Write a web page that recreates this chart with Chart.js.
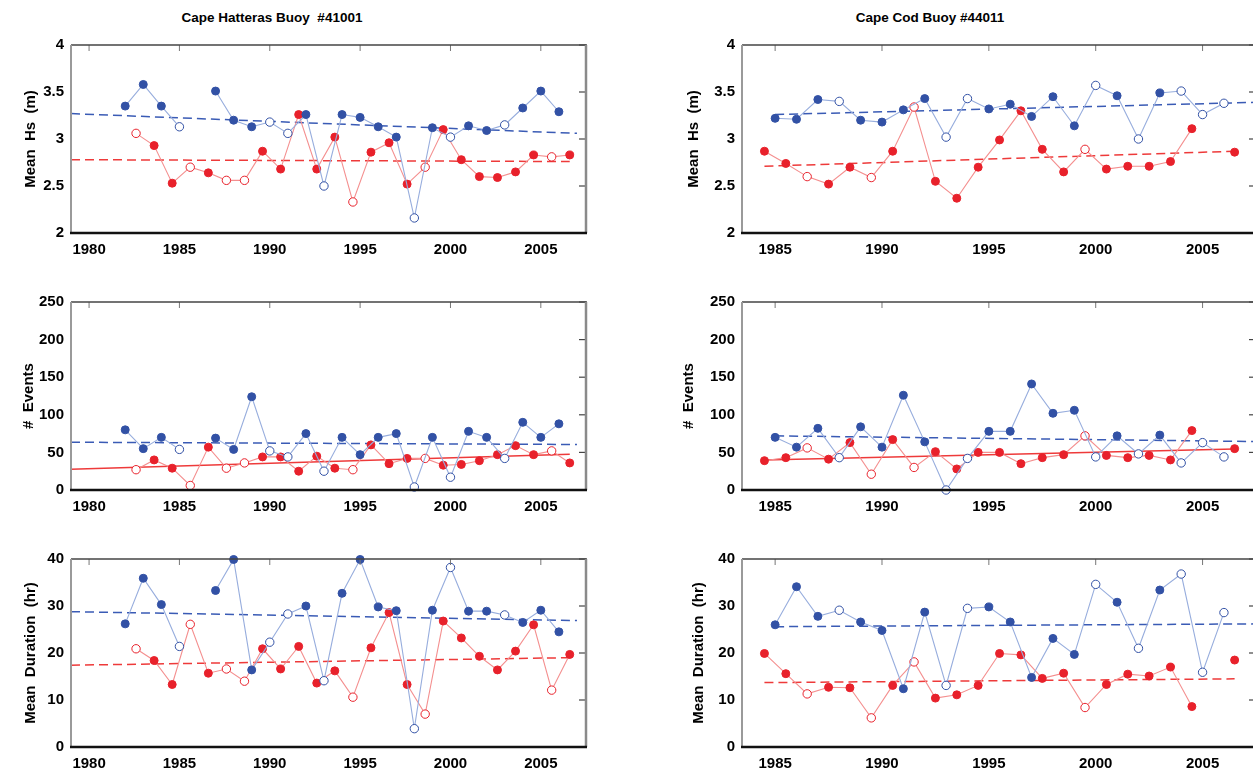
<!DOCTYPE html>
<html>
<head>
<meta charset="utf-8">
<script src="https://cdn.jsdelivr.net/npm/chart.js@4.4.1/dist/chart.umd.min.js"></script>
<style>
  html, body { margin: 0; padding: 0; background: #fff; overflow: hidden; width: 1253px; height: 770px; }
  canvas { position: absolute; }
  .title { position: absolute; top: 10px; transform: translateX(-50%); white-space: pre;
           font: bold 13.5px 'Liberation Sans', Arial, sans-serif; color: #000; }
</style>
</head>
<body>
<div class="title" style="left:272px">Cape Hatteras Buoy  #41001</div>
<div class="title" style="left:930px">Cape Cod Buoy #44011</div>

<canvas id="hatHs" width="600" height="228" style="left:0;top:29px"></canvas>
<canvas id="codHs" width="600" height="228" style="left:670px;top:29px"></canvas>
<canvas id="hatEv" width="600" height="228" style="left:0;top:286px"></canvas>
<canvas id="codEv" width="600" height="228" style="left:670px;top:286px"></canvas>
<canvas id="hatDur" width="600" height="228" style="left:0;top:543px"></canvas>
<canvas id="codDur" width="600" height="228" style="left:670px;top:543px"></canvas>

<script>
// ---- x positions (years) ----
const hatterasBlueYears = [1982, 1983, 1984, 1985, 1986, 1987, 1988, 1989, 1990, 1991, 1992, 1993, 1994,
  1995, 1996, 1997, 1998, 1999, 2000, 2001, 2002, 2003, 2004, 2005, 2006];
const hatterasRedYears = [1982.6, 1983.6, 1984.6, 1985.6, 1986.6, 1987.6, 1988.6, 1989.6, 1990.6, 1991.6,
  1992.6, 1993.6, 1994.6, 1995.6, 1996.6, 1997.6, 1998.6, 1999.6, 2000.6, 2001.6, 2002.6, 2003.6, 2004.6,
  2005.6, 2006.6];
const capeCodBlueYears = [1985, 1986, 1987, 1988, 1989, 1990, 1991, 1992, 1993, 1994, 1995, 1996, 1997,
  1998, 1999, 2000, 2001, 2002, 2003, 2004, 2005, 2006];
const capeCodRedYears = [1984.5, 1985.5, 1986.5, 1987.5, 1988.5, 1989.5, 1990.5, 1991.5, 1992.5, 1993.5,
  1994.5, 1995.5, 1996.5, 1997.5, 1998.5, 1999.5, 2000.5, 2001.5, 2002.5, 2003.5, 2004.5, 2005.5, 2006.5];

// 1 = open (hollow) marker
const hatterasBlueHollow = [0,0,0,1,0,0,0,0,1,1,0,1,0,0,0,0,1,0,1,0,0,1,0,0,0];
const hatterasRedHollow  = [1,0,0,1,0,1,1,0,0,0,0,0,1,0,0,0,1,0,0,0,0,0,0,1,0];
const capeCodBlueHollow  = [0,0,0,1,0,0,0,0,1,1,0,0,0,0,0,1,0,1,0,1,1,1];
const capeCodRedHollow   = [0,0,1,0,0,1,0,1,0,0,0,0,0,0,0,1,0,0,0,0,0,0,0];

// ---- Mean Hs (m) ----
const hatterasHsBlue = [3.35, 3.58, 3.35, 3.13, null, 3.51, 3.20, 3.13, 3.18, 3.06, 3.26, 2.50, 3.26,
  3.23, 3.13, 3.02, 2.16, 3.12, 3.02, 3.14, 3.09, 3.15, 3.33, 3.51, 3.29];
const hatterasHsRed = [3.06, 2.93, 2.53, 2.70, 2.64, 2.56, 2.56, 2.87, 2.68, 3.26, 2.68, 3.02, 2.33,
  2.86, 2.96, 2.52, 2.70, 3.10, 2.78, 2.60, 2.59, 2.65, 2.83, 2.81, 2.83];
const capeCodHsBlue = [3.22, 3.21, 3.42, 3.40, 3.20, 3.18, 3.31, 3.43, 3.02, 3.43, 3.32, 3.37, 3.24,
  3.45, 3.14, 3.57, 3.46, 3.00, 3.49, 3.51, 3.26, 3.38];
const capeCodHsRed = [2.87, 2.74, 2.60, 2.52, 2.70, 2.59, 2.87, 3.34, 2.55, 2.37, 2.70, 2.99, 3.30,
  2.89, 2.65, 2.89, 2.68, 2.71, 2.71, 2.76, 3.11, null, 2.86];

// ---- # Events ----
const hatterasEvBlue = [80, 55, 70, 54, null, 69, 54, 124, 52, 44, 75, 25, 70, 47, 70, 75, 4, 70, 17,
  78, 70, 42, 90, 70, 88];
const hatterasEvRed = [27, 40, 29, 6, 57, 29, 36, 44, 44, 25, 45, 29, 27, 60, 35, 42, 42, 33, 34, 39,
  47, 59, 47, 52, 36];
const capeCodEvBlue = [70, 57, 82, 43, 84, 57, 126, 64, 0, 42, 78, 78, 141, 102, 106, 44, 72, 48, 73,
  36, 63, 44];
const capeCodEvRed = [39, 43, 56, 41, 63, 21, 67, 30, 51, 28, 50, 50, 35, 43, 47, 72, 46, 43, 46, 40,
  79, null, 55];

// ---- Mean Duration (hr) ----
const hatterasDurBlue = [26.2, 35.9, 30.3, 21.4, null, 33.3, 39.9, 16.4, 22.3, 28.3, 30.0, 14.1, 32.7,
  39.9, 29.8, 29.0, 3.9, 29.1, 38.2, 28.9, 28.9, 28.1, 26.5, 29.1, 24.5];
const hatterasDurRed = [20.9, 18.4, 13.3, 26.1, 15.7, 16.6, 14.0, 20.9, 16.6, 21.4, 13.6, 16.2, 10.6,
  21.1, 28.6, 13.3, 7.0, 26.8, 23.2, 19.3, 16.4, 20.4, 26.0, 12.1, 19.7];
const capeCodDurBlue = [26.0, 34.1, 27.8, 29.1, 26.6, 24.8, 12.4, 28.7, 13.1, 29.5, 29.8, 26.6, 14.8,
  23.1, 19.7, 34.6, 30.8, 21.0, 33.4, 36.8, 15.9, 28.6];
const capeCodDurRed = [19.9, 15.6, 11.3, 12.7, 12.6, 6.2, 13.1, 18.1, 10.4, 11.1, 13.1, 19.9, 19.6,
  14.6, 15.7, 8.4, 13.3, 15.5, 15.1, 17.0, 8.6, null, 18.5];

// ---- trend lines (end points) ----
const hatterasBlueTrendX = [1979, 2007];
const hatterasRedTrendX = [1979, 2006.6];
const capeCodBlueTrendX = [1985, 2007.5];
const capeCodRedTrendX = [1984.5, 2006.5];
const hatterasHsTrendBlue = [3.27, 3.06];
const hatterasHsTrendRed = [2.78, 2.76];
const capeCodHsTrendBlue = [3.26, 3.39];
const capeCodHsTrendRed = [2.71, 2.87];
const hatterasEvTrendBlue = [63.5, 60.5];
const hatterasEvTrendRed = [27.5, 47.5];
const capeCodEvTrendBlue = [72, 64.4];
const capeCodEvTrendRed = [40, 54.5];
const hatterasDurTrendBlue = [28.8, 26.9];
const hatterasDurTrendRed = [17.4, 19.0];
const capeCodDurTrendBlue = [25.6, 26.2];
const capeCodDurTrendRed = [13.7, 14.5];

// ---- tick labels ----
const hatterasXTicks = [1980, 1985, 1990, 1995, 2000, 2005];
const capeCodXTicks = [1985, 1990, 1995, 2000, 2005];
const hsTicks = [2, 2.5, 3, 3.5, 4];
const evTicks = [0, 50, 100, 150, 200, 250];
const durTicks = [0, 10, 20, 30, 40];

const BLUE = '#3251a5', BLUE_LINE = '#97addd', BLUE_TREND = '#3a5bb5';
const RED = '#e8212b', RED_LINE = '#f48f8f', RED_TREND = '#ee3a3a';
const FONT = "'Liberation Sans', Arial, sans-serif";

const toPoints = (xs, ys) => xs.map((x, i) => ({ x: x, y: ys[i] }));

function series(xs, ys, hollow, fill, line) {
  return {
    data: toPoints(xs, ys),
    showLine: true,
    spanGaps: false,
    borderColor: line,
    borderWidth: 1.1,
    pointRadius: hollow.map(h => h ? 4.2 : 4),
    pointBackgroundColor: hollow.map(h => h ? '#fff' : fill),
    pointBorderColor: fill,
    pointBorderWidth: 1,
    clip: false,
    order: 1
  };
}

function trend(xs, ys, color, dashed) {
  return {
    data: toPoints(xs, ys),
    showLine: true,
    borderColor: color,
    borderWidth: 1.5,
    borderDash: dashed ? [9, 5] : [],
    pointRadius: 0,
    order: 3
  };
}

// box, inward ticks on top/right, axis lines
const frame = {
  id: 'frame',
  afterDatasetsDraw(chart) {
    const { ctx, chartArea: a, scales: { x, y } } = chart;
    const seg = (x1, y1, x2, y2, col, w) => {
      ctx.strokeStyle = col; ctx.lineWidth = w;
      ctx.beginPath(); ctx.moveTo(x1, y1); ctx.lineTo(x2, y2); ctx.stroke();
    };
    ctx.save();
    x.ticks.forEach(t => {
      const px = x.getPixelForValue(t.value);
      seg(px, a.top, px, a.top + 6, '#777', 1);
    });
    y.ticks.forEach(t => {
      const py = y.getPixelForValue(t.value);
      seg(a.right - 7, py, a.right, py, '#444', 1.2);
    });
    seg(a.left, a.top, a.right + 1, a.top, '#444', 1.5);
    seg(a.right, a.top, a.right, a.bottom, '#8a8a8a', 2.5);
    seg(a.left, a.top, a.left, a.bottom, '#9a9a9a', 2);
    seg(a.left - 1, a.bottom, a.right + 1, a.bottom, '#111', 2.5);
    ctx.restore();
  }
};

function panel(id, cfg) {
  const tickFont = { family: FONT, size: 15, weight: 'bold' };
  new Chart(document.getElementById(id), {
    type: 'scatter',
    data: {
      datasets: [
        series(cfg.blueX, cfg.blue, cfg.blueHollow, BLUE, BLUE_LINE),
        series(cfg.redX, cfg.red, cfg.redHollow, RED, RED_LINE),
        trend(cfg.blueTrendX, cfg.blueTrend, BLUE_TREND, true),
        trend(cfg.redTrendX, cfg.redTrend, RED_TREND, cfg.redDashed)
      ]
    },
    options: {
      responsive: false,
      animation: false,
      events: [],
      layout: { padding: { top: 10, right: 14, left: 0, bottom: 0 } },
      plugins: { legend: { display: false }, tooltip: { enabled: false } },
      scales: {
        x: {
          type: 'linear', min: cfg.xMin, max: 2007.5,
          grid: { display: false, drawTicks: false },
          border: { display: false },
          afterBuildTicks: s => { s.ticks = cfg.xTicks.map(v => ({ value: v })); },
          afterFit: s => { s.height = 24; },
          ticks: { font: tickFont, color: '#000', padding: 8, maxRotation: 0, autoSkip: false,
                   callback: v => String(v) }
        },
        y: {
          min: cfg.yTicks[0], max: cfg.yTicks[cfg.yTicks.length - 1],
          grid: { display: false, drawTicks: false },
          border: { display: false },
          afterBuildTicks: s => { s.ticks = cfg.yTicks.map(v => ({ value: v })); },
          afterFit: s => { s.width = cfg.yWidth; },
          ticks: { font: tickFont, color: '#000', padding: 7, autoSkip: false, callback: v => String(v) },
          title: { display: true, text: cfg.yLabel, color: '#000',
                   font: { family: FONT, size: 15, weight: 'bold' },
                   padding: { top: cfg.titlePad, bottom: 0 } }
        }
      }
    },
    plugins: [frame]
  });
}

const hatteras = { blueX: hatterasBlueYears, redX: hatterasRedYears, blueHollow: hatterasBlueHollow,
  redHollow: hatterasRedHollow, blueTrendX: hatterasBlueTrendX, redTrendX: hatterasRedTrendX,
  xMin: 1979, xTicks: hatterasXTicks, yWidth: 71 };
const capeCod = { blueX: capeCodBlueYears, redX: capeCodRedYears, blueHollow: capeCodBlueHollow,
  redHollow: capeCodRedHollow, blueTrendX: capeCodBlueTrendX, redTrendX: capeCodRedTrendX,
  xMin: 1983.45, xTicks: capeCodXTicks, yWidth: 72 };

panel('hatHs', Object.assign({}, hatteras, { blue: hatterasHsBlue, red: hatterasHsRed,
  blueTrend: hatterasHsTrendBlue, redTrend: hatterasHsTrendRed, redDashed: true,
  yTicks: hsTicks, yLabel: 'Mean  Hs  (m)', titlePad: 22 }));
panel('codHs', Object.assign({}, capeCod, { blue: capeCodHsBlue, red: capeCodHsRed,
  blueTrend: capeCodHsTrendBlue, redTrend: capeCodHsTrendRed, redDashed: true,
  yTicks: hsTicks, yLabel: 'Mean  Hs  (m)', titlePad: 15 }));
panel('hatEv', Object.assign({}, hatteras, { blue: hatterasEvBlue, red: hatterasEvRed,
  blueTrend: hatterasEvTrendBlue, redTrend: hatterasEvTrendRed, redDashed: false,
  yTicks: evTicks, yLabel: '#  Events', titlePad: 20 }));
panel('codEv', Object.assign({}, capeCod, { blue: capeCodEvBlue, red: capeCodEvRed,
  blueTrend: capeCodEvTrendBlue, redTrend: capeCodEvTrendRed, redDashed: false,
  yTicks: evTicks, yLabel: '#  Events', titlePad: 10 }));
panel('hatDur', Object.assign({}, hatteras, { blue: hatterasDurBlue, red: hatterasDurRed,
  blueTrend: hatterasDurTrendBlue, redTrend: hatterasDurTrendRed, redDashed: true,
  yTicks: durTicks, yLabel: 'Mean  Duration  (hr)', titlePad: 22 }));
panel('codDur', Object.assign({}, capeCod, { blue: capeCodDurBlue, red: capeCodDurRed,
  blueTrend: capeCodDurTrendBlue, redTrend: capeCodDurTrendRed, redDashed: true,
  yTicks: durTicks, yLabel: 'Mean  Duration  (hr)', titlePad: 20 }));
</script>
</body>
</html>
